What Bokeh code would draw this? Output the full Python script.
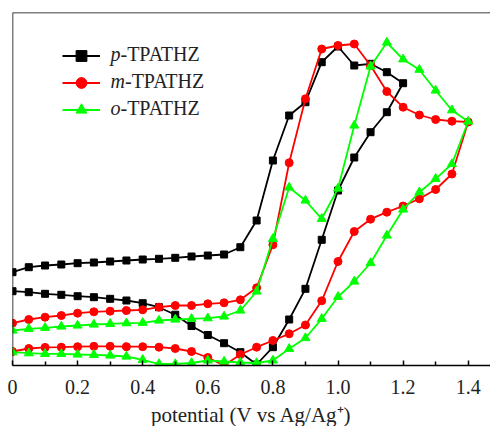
from bokeh.plotting import figure
from bokeh.models import (Range1d, Span, Legend, LegendItem, FixedTicker, Label,
                          ColumnDataSource, CustomJSTickFormatter)
from bokeh.embed import file_html
from bokeh.resources import INLINE

# ---------------- data (potential in V vs Ag/Ag+, current in arbitrary units) -------------
# p-TPATHZ : anodic sweep 0 -> 1.2 V, then return 1.15 -> 0 V
p_volt_fwd = [0.00, 0.05, 0.10, 0.15, 0.20, 0.25, 0.30, 0.35, 0.40, 0.45, 0.50, 0.55,
              0.60, 0.65, 0.70, 0.75, 0.80, 0.85, 0.90, 0.95, 1.00, 1.05, 1.10, 1.15, 1.20]
p_curr_fwd = [9.33, 9.83, 10.0, 10.1, 10.23, 10.3, 10.4, 10.5, 10.6, 10.67, 10.77, 10.9,
              11.0, 11.1, 11.83, 14.5, 20.5, 25.0, 26.33, 30.33, 31.9, 30.0, 30.17, 29.33, 28.23]
p_volt_rev = [1.15, 1.10, 1.05, 1.00, 0.95, 0.90, 0.85, 0.80, 0.75, 0.70, 0.65, 0.60,
              0.55, 0.50, 0.45, 0.40, 0.35, 0.30, 0.25, 0.20, 0.15, 0.10, 0.05, 0.00]
p_curr_rev = [25.33, 23.33, 20.8, 17.5, 12.57, 7.67, 4.6, 1.83, 0.1, 1.33, 2.23, 3.05,
              3.95, 5.08, 5.83, 6.23, 6.5, 6.67, 6.83, 6.93, 7.07, 7.17, 7.33, 7.43]

# m-TPATHZ / o-TPATHZ : anodic sweep 0 -> 1.4 V, then return 1.35 -> 0 V
mo_volt_fwd = [0.00, 0.05, 0.10, 0.15, 0.20, 0.25, 0.30, 0.35, 0.40, 0.45, 0.50, 0.55,
               0.60, 0.65, 0.70, 0.75, 0.80, 0.85, 0.90, 0.95, 1.00, 1.05, 1.10, 1.15,
               1.20, 1.25, 1.30, 1.35, 1.40]
mo_volt_rev = [1.35, 1.30, 1.25, 1.20, 1.15, 1.10, 1.05, 1.00, 0.95, 0.90, 0.85, 0.80,
               0.75, 0.70, 0.65, 0.60, 0.55, 0.50, 0.45, 0.40, 0.35, 0.30, 0.25, 0.20,
               0.15, 0.10, 0.05, 0.00]

m_curr_fwd = [4.23, 4.6, 4.83, 5.0, 5.23, 5.37, 5.43, 5.5, 5.57, 5.83, 6.0, 6.0,
              6.17, 6.27, 6.57, 7.77, 12.07, 20.27, 26.67, 31.65, 32.0, 32.15, 30.0, 27.4,
              25.83, 25.05, 24.6, 24.43, 24.35]
m_curr_rev = [19.15, 17.6, 16.67, 15.95, 15.33, 14.63, 13.4, 10.4, 6.47, 4.05, 3.17, 2.5,
              1.83, 1.1, 0.0, 0.8, 1.4, 1.7, 1.83, 1.88, 1.88, 1.92, 1.92, 1.88,
              1.83, 1.81, 1.7, 1.4]

o_curr_fwd = [3.5, 3.67, 3.77, 3.9, 4.0, 4.1, 4.17, 4.23, 4.27, 4.5, 4.6, 4.67,
              4.73, 4.9, 5.5, 7.4, 12.67, 17.8, 16.5, 14.67, 17.7, 24.0, 29.9, 32.3,
              30.62, 29.58, 27.5, 25.53, 24.4]
o_curr_rev = [20.15, 18.67, 17.33, 15.6, 13.0, 10.25, 8.4, 6.87, 4.67, 2.75, 1.67, 0.5,
              0.25, 0.3, 0.4, 0.5, 0.25, 0.15, 0.15, 0.57, 0.9, 1.0, 1.07, 1.1,
              1.17, 1.17, 1.23, 1.33]

# legend names: italic isomer prefix + compound name
series_prefix = ["p", "m", "o"]
series_suffix = ["-TPATHZ", "-TPATHZ", "-TPATHZ"]
series_colors = ["#000000", "#ff0000", "#00ff00"]
series_markers = ["square", "circle", "triangle"]

x_ticks = [0.0, 0.2, 0.4, 0.6, 0.8, 1.0, 1.2, 1.4]
x_minor = [0.1, 0.3, 0.5, 0.7, 0.9, 1.1, 1.3]
x_label = "potential (V vs Ag/Ag\u207a)"

# ---------------- figure ----------------
FONT = "Liberation Serif"
TXT = "#222222"

p = figure(frame_width=478, frame_height=353,
           x_range=Range1d(0, 1.4685), y_range=Range1d(0, 35.3),
           y_axis_type=None, output_backend="svg", toolbar_location=None,
           min_border_left=12, min_border_right=0, min_border_top=12, min_border_bottom=61)
p.outline_line_color = None
p.xgrid.grid_line_color = None
p.background_fill_color = "white"
p.border_fill_color = "white"

curves = [
    (p_volt_fwd + p_volt_rev, p_curr_fwd + p_curr_rev),
    (mo_volt_fwd + mo_volt_rev, m_curr_fwd + m_curr_rev),
    (mo_volt_fwd + mo_volt_rev, o_curr_fwd + o_curr_rev),
]
marker_sizes = {"square": 7, "circle": 8, "triangle": 9}

items = []
for (xv, yv), col, mk in zip(curves, series_colors, series_markers):
    src = ColumnDataSource(dict(x=xv, y=yv))
    ln = p.line("x", "y", source=src, line_color=col, line_width=1.8)
    sc = p.scatter("x", "y", source=src, marker=mk, size=marker_sizes[mk],
                   fill_color=col, line_color=col)
    items.append(LegendItem(label=" ", renderers=[ln, sc]))

ROW = 27
legend = Legend(items=items, location=(50, 242), glyph_width=38, glyph_height=ROW,
                label_height=ROW, spacing=0, padding=0, margin=0, label_standoff=0,
                label_width=0, border_line_color=None, background_fill_alpha=0,
                label_text_font=FONT, label_text_font_size="20px")
p.add_layout(legend)

# legend texts (italic prefix + upright name), placed beside the legend glyphs
leg_x = 0.301          # potential where legend text starts
leg_y0 = 31.2          # current level of first legend row
row_step = ROW / 10.0  # one legend row expressed in current units (10 px per unit)
prefix_w = {"p": 10, "m": 14.5, "o": 10}
for i, (pre, suf) in enumerate(zip(series_prefix, series_suffix)):
    yy = leg_y0 - i * row_step
    p.add_layout(Label(x=leg_x, y=yy, text=pre, text_font=FONT, text_font_size="20px",
                       text_font_style="italic", text_baseline="middle", text_color=TXT))
    p.add_layout(Label(x=leg_x, y=yy, x_offset=prefix_w[pre], text=suf, text_font=FONT,
                       text_font_size="20px", text_baseline="middle", text_color=TXT))

# frame lines: top and left
p.add_layout(Span(location=35.3, dimension="width", line_color="black", line_width=1.5))
p.add_layout(Span(location=0, dimension="height", line_color="black", line_width=1.5))

ax = p.xaxis[0]
ax.ticker = FixedTicker(ticks=x_ticks, minor_ticks=x_minor)
ax.formatter = CustomJSTickFormatter(code="return tick == 0 ? '0' : tick.toFixed(1);")
ax.axis_line_width = 1.5
ax.axis_line_color = "black"
ax.major_tick_in = 5
ax.major_tick_out = 0
ax.minor_tick_in = 4
ax.minor_tick_out = 0
ax.major_tick_line_width = 1.5
ax.minor_tick_line_width = 1.5
ax.major_label_text_font = FONT
ax.major_label_text_font_size = "20px"
ax.major_label_text_color = TXT
ax.major_label_standoff = 14
ax.axis_label = x_label
ax.axis_label_text_font = FONT
ax.axis_label_text_font_size = "21px"
ax.axis_label_text_font_style = "normal"
ax.axis_label_text_color = TXT
ax.axis_label_standoff = 6

open("out.html", "w").write(file_html(p, INLINE))
